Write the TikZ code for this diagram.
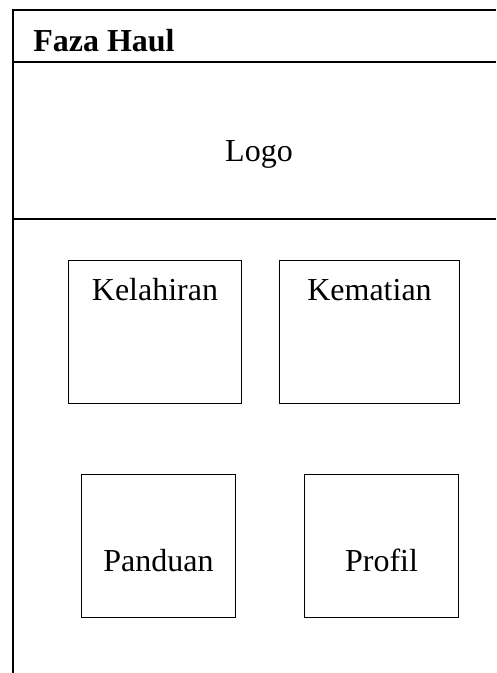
\documentclass[tikz,border=0pt]{standalone}
\usepackage{fontspec}
\setmainfont{Liberation Serif}
\usetikzlibrary{positioning}
\tikzset{
  menubox/.style={draw, line width=0.75pt, inner sep=0pt, anchor=north west, minimum height=107.25pt},
  menulabel/.style={font=\fontsize{24}{28}\selectfont, inner sep=0pt, anchor=base},
}
\def\menubtn(#1,#2,#3,#4,#5,#6){
  \node[menubox, minimum width=#4] (#1) at (#2,#3) {};
  \node[menulabel, below=#6 of #1.north, anchor=base] (#1_txt) {#5};
}

\begin{document}
\begin{tikzpicture}[x=0.75pt,y=-0.75pt]
\useasboundingbox (0,0) rectangle (496,673);
% screen frame
\draw[line width=1.5pt] (496,10) -- (13,10) -- (13,673);
\draw[line width=1pt] (13,62) -- (496,62);
\draw[line width=1pt] (13,219) -- (496,219);
\node[menulabel, font=\bfseries\fontsize{24}{28}\selectfont, anchor=base west] (title) at (33,52) {Faza Haul};
\node[menulabel] (logo) at (259,162) {Logo};
% menu
\menubtn(kel,68,260,129.75pt,Kelahiran,30pt)
\menubtn(kem,279,260,135pt,Kematian,30pt)
\menubtn(pan,81,474,115.5pt,Panduan,72.75pt)
\menubtn(pro,304,474,115.5pt,Profil,72.75pt)
\end{tikzpicture}
\end{document}
